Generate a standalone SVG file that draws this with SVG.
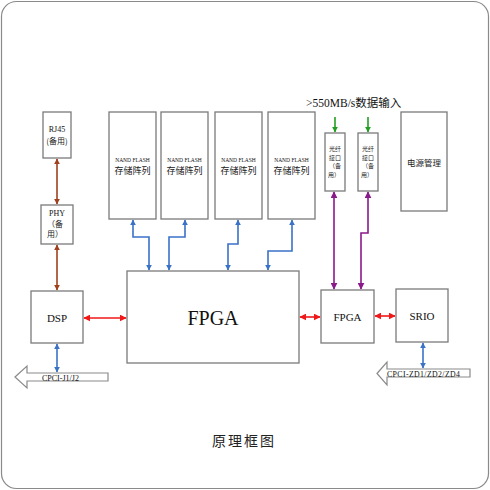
<svg xmlns="http://www.w3.org/2000/svg" width="490" height="490" viewBox="0 0 490 490">
<style>
.box{fill:#fff;stroke:#7a7a7a;stroke-width:1.3}
.bigarrow{fill:#fff;stroke:#8a8a8a;stroke-width:1.2}
.serif{font-family:"Liberation Serif","Noto Sans CJK SC",serif;fill:#111}
.cjk{font-family:"Noto Sans CJK SC","Liberation Sans",sans-serif;fill:#222}
.c{fill:none;stroke-width:1.6}
.brown{stroke:#a0401c}
.red{stroke:#f01818}
.blue{stroke:#3a72c8}
.purple{stroke:#8a1a8a}
.green{stroke:#20a020}
</style>
<defs>
<marker id="ab" viewBox="0 0 10 10" refX="9" refY="5" markerWidth="6" markerHeight="6" markerUnits="userSpaceOnUse" orient="auto-start-reverse"><path d="M0,0 L10,5 L0,10 z" fill="#a0401c"/></marker>
<marker id="ar" viewBox="0 0 10 10" refX="9" refY="5" markerWidth="7" markerHeight="7" markerUnits="userSpaceOnUse" orient="auto-start-reverse"><path d="M0,0 L10,5 L0,10 z" fill="#f01818"/></marker>
<marker id="abl" viewBox="0 0 10 10" refX="9" refY="5" markerWidth="6" markerHeight="6" markerUnits="userSpaceOnUse" orient="auto-start-reverse"><path d="M0,0 L10,5 L0,10 z" fill="#3a72c8"/></marker>
<marker id="ap" viewBox="0 0 10 10" refX="9" refY="5" markerWidth="7" markerHeight="7" markerUnits="userSpaceOnUse" orient="auto-start-reverse"><path d="M0,0 L10,5 L0,10 z" fill="#8a1a8a"/></marker>
<marker id="ag" viewBox="0 0 10 10" refX="9" refY="5" markerWidth="6" markerHeight="6" markerUnits="userSpaceOnUse" orient="auto-start-reverse"><path d="M0,0 L10,5 L0,10 z" fill="#20a020"/></marker>
</defs>
<rect x="1.5" y="1.5" width="487" height="487" rx="15" fill="#fff" stroke="#8a8a8a" stroke-width="1.2"/>

<g id="connectors">
<line class="c brown" x1="57" y1="159" x2="57" y2="204" marker-start="url(#ab)" marker-end="url(#ab)"/>
<line class="c brown" x1="57" y1="245" x2="57" y2="290" marker-start="url(#ab)" marker-end="url(#ab)"/>
<line class="c red" x1="84" y1="318" x2="126" y2="318" marker-start="url(#ar)" marker-end="url(#ar)"/>
<line class="c red" x1="300" y1="317" x2="320" y2="317" marker-start="url(#ar)" marker-end="url(#ar)"/>
<line class="c red" x1="375" y1="316" x2="395" y2="316" marker-start="url(#ar)" marker-end="url(#ar)"/>
<polyline class="c blue" points="133,220 133,237 149,237 149,270" marker-start="url(#abl)" marker-end="url(#abl)"/>
<polyline class="c blue" points="185,220 185,237 169,237 169,270" marker-start="url(#abl)" marker-end="url(#abl)"/>
<polyline class="c blue" points="238,220 238,244 228,244 228,270" marker-start="url(#abl)" marker-end="url(#abl)"/>
<polyline class="c blue" points="292,220 292,251 268,251 268,270" marker-start="url(#abl)" marker-end="url(#abl)"/>
<line class="c blue" x1="57" y1="344" x2="57" y2="372" marker-start="url(#abl)" marker-end="url(#abl)"/>
<line class="c blue" x1="423" y1="343" x2="423" y2="368" marker-start="url(#abl)" marker-end="url(#abl)"/>
<line class="c purple" x1="334" y1="192" x2="334" y2="289" marker-start="url(#ap)" marker-end="url(#ap)"/>
<polyline class="c purple" points="368,192 368,233 361,233 361,289" marker-start="url(#ap)" marker-end="url(#ap)"/>
<line class="c green" x1="335" y1="117" x2="335" y2="132" marker-end="url(#ag)"/>
<line class="c green" x1="368" y1="117" x2="368" y2="132" marker-end="url(#ag)"/>
</g>

<g id="rj45">
<rect class="box" x="43" y="112" width="28" height="46"/>
<text class="serif" x="57" y="132" font-size="8" text-anchor="middle">RJ45</text>
<text class="cjk" x="57" y="144" font-size="8" text-anchor="middle">(备用)</text>
</g>
<g id="phy">
<rect class="box" x="41" y="205" width="32" height="39"/>
<text class="serif" x="57" y="216" font-size="8" text-anchor="middle">PHY</text>
<text class="cjk" x="55" y="226.5" font-size="8" text-anchor="middle">（备</text>
<text class="cjk" x="55" y="237" font-size="8" text-anchor="middle">用）</text>
</g>
<g id="nand1">
<rect class="box" x="109" y="112" width="47" height="107"/>
<text class="serif" x="132.5" y="162" font-size="5.5" text-anchor="middle">NAND FLASH</text>
<text class="cjk" x="132.5" y="174" font-size="9" text-anchor="middle">存储阵列</text>
</g>
<g id="nand2">
<rect class="box" x="161" y="112" width="47" height="107"/>
<text class="serif" x="184.5" y="162" font-size="5.5" text-anchor="middle">NAND FLASH</text>
<text class="cjk" x="184.5" y="174" font-size="9" text-anchor="middle">存储阵列</text>
</g>
<g id="nand3">
<rect class="box" x="215" y="112" width="47" height="107"/>
<text class="serif" x="238.5" y="162" font-size="5.5" text-anchor="middle">NAND FLASH</text>
<text class="cjk" x="238.5" y="174" font-size="9" text-anchor="middle">存储阵列</text>
</g>
<g id="nand4">
<rect class="box" x="268" y="112" width="47" height="107"/>
<text class="serif" x="291.5" y="162" font-size="5.5" text-anchor="middle">NAND FLASH</text>
<text class="cjk" x="291.5" y="174" font-size="9" text-anchor="middle">存储阵列</text>
</g>
<g id="input-label">
<text class="serif" x="306" y="107" font-size="11.5">&gt;550MB/s数据输入</text>
</g>
<g id="fiber1">
<rect class="box" x="325" y="133" width="20" height="58"/>
<text class="cjk" x="335" y="151" font-size="6" text-anchor="middle">光纤</text>
<text class="cjk" x="335" y="159.5" font-size="6" text-anchor="middle">接口</text>
<text class="cjk" x="335" y="168" font-size="6" text-anchor="middle">（备</text>
<text class="cjk" x="334" y="176.5" font-size="6" text-anchor="middle">用）</text>
</g>
<g id="fiber2">
<rect class="box" x="358" y="133" width="20" height="58"/>
<text class="cjk" x="368" y="151" font-size="6" text-anchor="middle">光纤</text>
<text class="cjk" x="368" y="159.5" font-size="6" text-anchor="middle">接口</text>
<text class="cjk" x="368" y="168" font-size="6" text-anchor="middle">（备</text>
<text class="cjk" x="367" y="176.5" font-size="6" text-anchor="middle">用）</text>
</g>
<g id="power">
<rect class="box" x="401" y="112" width="46" height="99"/>
<text class="cjk" x="424" y="166" font-size="8.5" text-anchor="middle">电源管理</text>
</g>
<g id="dsp">
<rect class="box" x="31" y="291" width="52" height="52"/>
<text class="serif" x="57" y="322" font-size="11" text-anchor="middle">DSP</text>
</g>
<g id="fpga-main">
<rect class="box" x="127" y="271" width="172" height="92"/>
<text class="serif" x="213" y="325" font-size="20" text-anchor="middle">FPGA</text>
</g>
<g id="fpga2">
<rect class="box" x="321" y="290" width="53" height="53"/>
<text class="serif" x="347.5" y="321" font-size="11" text-anchor="middle">FPGA</text>
</g>
<g id="srio">
<rect class="box" x="396" y="289" width="52" height="53"/>
<text class="serif" x="422" y="320" font-size="11" text-anchor="middle">SRIO</text>
</g>
<g id="cpci-j">
<path class="bigarrow" d="M15,377 L27,366 L27,373 L108,373 L108,381 L27,381 L27,388 Z"/>
<text class="serif" x="42" y="380.5" font-size="8">CPCI-J1/J2</text>
</g>
<g id="cpci-zd">
<path class="bigarrow" d="M377,373.5 L387,362 L387,369 L470,369 L470,377 L387,377 L387,385 Z"/>
<text class="serif" x="387" y="376.5" font-size="7.8" textLength="73">CPCI-ZD1/ZD2/ZD4</text>
</g>
<g id="caption">
<text class="cjk" x="244" y="446" font-size="14" text-anchor="middle" letter-spacing="2" fill="#333">原理框图</text>
</g>
</svg>
